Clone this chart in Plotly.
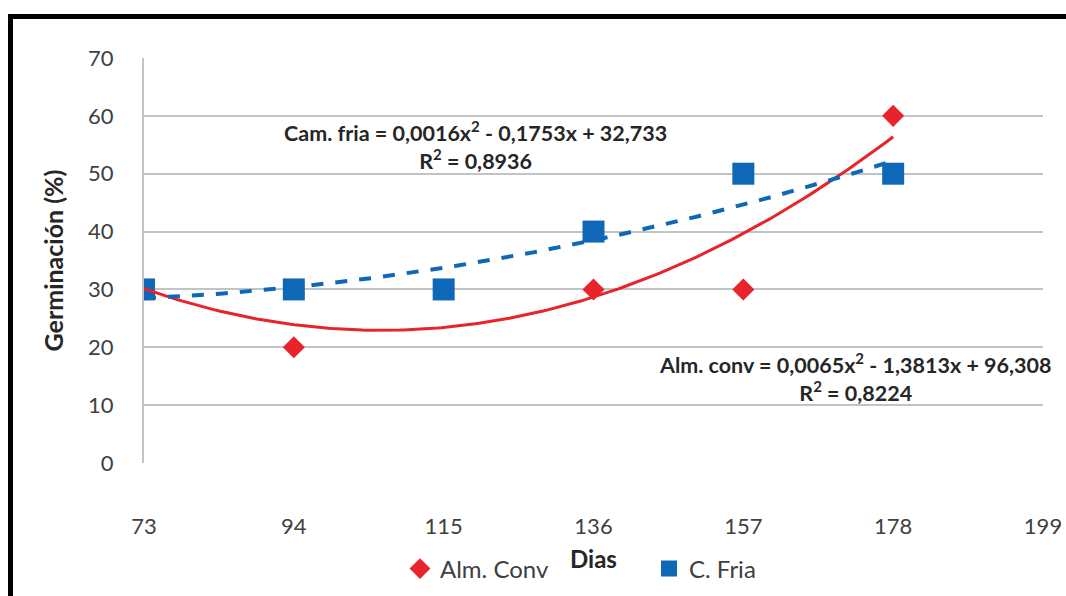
import numpy as np
import plotly.graph_objects as go

dias = [73, 94, 115, 136, 157, 178]
alm_conv = [30, 20, 30, 30, 30, 60]
c_fria = [30, 30, 30, 40, 50, 50]
x_ticks = [73, 94, 115, 136, 157, 178, 199]
y_ticks = [0, 10, 20, 30, 40, 50, 60, 70]

# polynomial trendline coefficients printed on the chart (a, b, c)
coef_alm = [0.0065, -1.3813, 96.308]
coef_fria = [0.0016, -0.1753, 32.733]

RED = "#e8232b"
BLUE = "#0f67b8"
FONT = "Lato"

xs = np.linspace(min(dias), max(dias), 200)
y_alm = np.polyval(coef_alm, xs)
y_fria = np.polyval(coef_fria, xs)

fig = go.Figure()
fig.add_trace(go.Scatter(x=dias, y=alm_conv, mode="markers", name="Alm. Conv",
                         marker=dict(symbol="diamond", size=17, color=RED)))
fig.add_trace(go.Scatter(x=dias, y=c_fria, mode="markers", name="C. Fria",
                         marker=dict(symbol="square", size=22, color=BLUE)))
fig.add_trace(go.Scatter(x=xs, y=y_alm, mode="lines", showlegend=False, hoverinfo="skip",
                         line=dict(color=RED, width=3)))
fig.add_trace(go.Scatter(x=xs, y=y_fria, mode="lines", showlegend=False, hoverinfo="skip",
                         line=dict(color=BLUE, width=4, dash="dash")))

L, R, T, B = 144, 23, 58, 133
W, H = 1066, 596
pw, ph = W - L - R, H - T - B

def px(x):
    return (x - L) / pw

def py(y):
    return (H - B - y) / ph

fig.update_layout(
    width=W, height=H,
    margin=dict(l=L, r=R, t=T, b=B, pad=0, autoexpand=False),
    paper_bgcolor="white", plot_bgcolor="white",
    font=dict(family=FONT, color="#404040", size=20),
    showlegend=True,
    legend=dict(orientation="h", xref="container", yref="container",
                x=400 / W, y=1 - 569 / H, xanchor="left", yanchor="middle",
                font=dict(size=24, color="#404040"), entrywidth=204, itemwidth=30,
                bgcolor="rgba(0,0,0,0)"),
    xaxis=dict(range=[73, 199], tickvals=x_ticks, showgrid=False, zeroline=False,
               showline=False, ticks="", tickfont=dict(size=22, color="#404040"),
               ticklabelstandoff=48),
    yaxis=dict(range=[0, 70], tickvals=y_ticks, showgrid=True, gridcolor="#c0c4c6", gridwidth=2,
               zeroline=False, showline=True, linecolor="#c0c4c6", linewidth=2, ticks="",
               tickfont=dict(size=22, color="#404040"), ticklabelstandoff=24,
               title=dict(text="<b>Germinación (%)</b>", font=dict(size=25, color="#262626"),
                          standoff=17)),
    shapes=[
        dict(type="line", xref="paper", yref="paper", x0=px(8), x1=px(1070),
             y0=py(16.5), y1=py(16.5), line=dict(color="black", width=5)),
        dict(type="line", xref="paper", yref="paper", x0=px(10.5), x1=px(10.5),
             y0=py(14), y1=py(600), line=dict(color="black", width=5)),
    ],
    annotations=[
        dict(xref="paper", yref="paper", x=0.5, y=py(558), xanchor="center", yanchor="middle",
             showarrow=False, text="<b>Dias</b>",
             font=dict(size=24, color="#262626", family=FONT)),
        dict(xref="paper", yref="paper", x=px(475), y=py(145), xanchor="center", yanchor="middle",
             showarrow=False, align="center",
             text="<b>Cam. fria = 0,0016x<sup>2</sup> - 0,1753x + 32,733<br>R<sup>2</sup> = 0,8936</b>",
             font=dict(size=21.5, color="#262626", family=FONT)),
        dict(xref="paper", yref="paper", x=px(855), y=py(377), xanchor="center", yanchor="middle",
             showarrow=False, align="center",
             text="<b>Alm. conv = 0,0065x<sup>2</sup> - 1,3813x + 96,308<br>R<sup>2</sup> = 0,8224</b>",
             font=dict(size=21.5, color="#262626", family=FONT)),
    ],
)

fig.write_html("out.html", config={"displayModeBar": False},
               post_script="document.body.style.margin='0px';")
